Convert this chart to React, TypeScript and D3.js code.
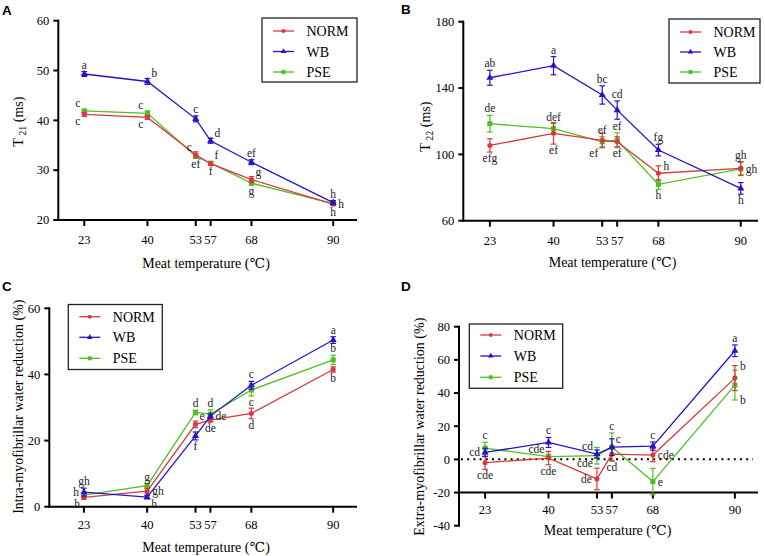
import React from "react";
import * as d3 from "d3";

// ---------- data ----------
const TEMPS = [23, 40, 53, 57, 68, 90];
const SERIES = ["NORM", "WB", "PSE"];

// Panel A: T21 (ms)
const A_NORM = [41.2, 40.6, 33.1, 31.3, 28.1, 23.2];
const A_NORM_ERR = [0.4, 0.4, 0.6, 0.3, 0.6, 0.3];
const A_WB = [49.3, 47.8, 40.3, 35.9, 31.6, 23.5];
const A_WB_ERR = [0.5, 0.6, 0.6, 0.5, 0.5, 0.4];
const A_PSE = [41.9, 41.4, 32.8, 31.4, 27.4, 23.3];
const A_PSE_ERR = [0.3, 0.5, 0.4, 0.3, 0.4, 0.3];
const A_NORM_LET = ["c", "c", "c", "f", "g", "h"];
const A_WB_LET = ["a", "b", "c", "d", "ef", "h"];
const A_PSE_LET = ["c", "c", "ef", "f", "g", "h"];

// Panel B: T22 (ms)
const B_NORM = [105.4, 112.7, 108.5, 107.6, 88.6, 91.6];
const B_NORM_ERR = [4, 6.5, 4.5, 3, 4.5, 4];
const B_WB = [146.2, 153.5, 135.8, 126.7, 102.6, 79.5];
const B_WB_ERR = [4.5, 5.5, 5.5, 5.5, 3.5, 3.5];
const B_PSE = [118.5, 115.5, 107.6, 108.5, 81.9, 91.2];
const B_PSE_ERR = [5, 3, 3, 4.5, 3, 4];
const B_NORM_LET = ["efg", "ef", "ef", "ef", "h", "gh"];
const B_WB_LET = ["ab", "a", "bc", "cd", "fg", "h"];
const B_PSE_LET = ["de", "def", "ef", "ef", "h", "gh"];

// Panel C: intra-myofibrillar water reduction (%)
const C_NORM = [2.8, 4.7, 24.9, 26.2, 28.2, 41.5];
const C_NORM_ERR = [0.6, 0.8, 1, 0.6, 1.6, 0.8];
const C_WB = [4.4, 2.9, 21.4, 27.4, 36.7, 50.4];
const C_WB_ERR = [1.2, 0.5, 1.2, 0.6, 1.2, 1];
const C_PSE = [3.5, 6.4, 28.5, 28.0, 35.3, 44.4];
const C_PSE_ERR = [0.6, 0.6, 0.7, 1.3, 1.8, 1.4];
const C_NORM_LET = ["h", "gh", "e", "de", "d", "b"];
const C_WB_LET = ["gh", "h", "f", "de", "c", "a"];
const C_PSE_LET = ["h", "g", "d", "d", "c", "b"];

// Panel D: extra-myofibrillar water reduction (%)
const D_NORM = [-2.0, 0.8, -11.8, 3.2, 2.6, 49.0];
const D_NORM_ERR = [4, 4, 6.5, 4, 4, 7.5];
const D_WB = [4.2, 10.2, 3.2, 7.4, 8.0, 65.5];
const D_WB_ERR = [2.5, 3, 2.5, 5, 2.5, 3.5];
const D_PSE = [6.8, 1.6, 2.2, 7.4, -13.4, 44.8];
const D_PSE_ERR = [3.5, 1.5, 5, 8.5, 8, 9];
const D_NORM_LET = ["cde", "cde", "de", "cd", "cde", "b"];
const D_WB_LET = ["cd", "c", "cd", "c", "c", "a"];
const D_PSE_LET = ["c", "cde", "cde", "c", "e", "b"];

const A_TICKS = [20, 30, 40, 50, 60];
const B_TICKS = [60, 100, 140, 180];
const C_TICKS = [0, 20, 40, 60];
const D_TICKS = [-40, -20, 0, 20, 40, 60, 80];
const X_TITLE = "Meat temperature (\u2103)";

// ---------- style / layout ----------
const COLORS: Record<string, string> = { NORM: "#d8383e", WB: "#2414c6", PSE: "#50bf22" };
const SYMBOLS: Record<string, any> = { NORM: d3.symbolCircle, WB: d3.symbolTriangle, PSE: d3.symbolSquare };
const SYM_SIZE: Record<string, number> = { NORM: 20, WB: 22, PSE: 26 };
const SERIF = "Liberation Serif, Times New Roman, DejaVu Serif, serif";
const SANS = "Liberation Sans, Arial, sans-serif";

type Series = { name: string; vals: number[]; errs: number[]; lets: string[]; pos: string[] };

const PANELS = [
  {
    id: "A", labelX: 2, labelY: 15,
    x0: 58.3, x1: 357, xDom: [16, 96.4],
    yTop: 20.7, yBot: 220, yDom: [20, 60], yTicks: A_TICKS, xAxisAt: 20,
    tickLabelY: 243.5, titleX: 206, titleY: 267.5,
    yTitle: ["T", "21", " (ms)"], yTitleX: 23, yTitleY: 121.7,
    legend: { x: 262, y: 18, w: 95, h: 64, rows: [31, 51.5, 72] },
    series: [
      { name: "NORM", vals: A_NORM, errs: A_NORM_ERR, lets: A_NORM_LET, pos: ["lb", "lb", "la", "b", "ra", "b"] },
      { name: "WB", vals: A_WB, errs: A_WB_ERR, lets: A_WB_LET, pos: ["a", "ra", "a", "ra", "a", "a"] },
      { name: "PSE", vals: A_PSE, errs: A_PSE_ERR, lets: A_PSE_LET, pos: ["la", "la", "b", "ra", "b", "r"] },
    ] as Series[],
  },
  {
    id: "B", labelX: 401, labelY: 14,
    x0: 463.3, x1: 758, xDom: [15.9, 94.6],
    yTop: 21.7, yBot: 220.7, yDom: [60, 180], yTicks: B_TICKS, xAxisAt: 60,
    tickLabelY: 245, titleX: 612.5, titleY: 266.5,
    yTitle: ["T", "22", " (ms)"], yTitleX: 429.5, yTitleY: 126.7,
    legend: { x: 669, y: 19, w: 91, h: 64, rows: [32, 52, 72] },
    series: [
      { name: "NORM", vals: B_NORM, errs: B_NORM_ERR, lets: B_NORM_LET, pos: ["b", "b", "lbe", "b", "rt", "a"] },
      { name: "WB", vals: B_WB, errs: B_WB_ERR, lets: B_WB_LET, pos: ["a", "a", "a", "a", "a", "b"] },
      { name: "PSE", vals: B_PSE, errs: B_PSE_ERR, lets: B_PSE_LET, pos: ["a", "a", "a", "a", "b", "r"] },
    ] as Series[],
  },
  {
    id: "C", labelX: 2, labelY: 291,
    x0: 49.3, x1: 357, xDom: [13.7, 96.4],
    yTop: 308.3, yBot: 506.7, yDom: [0, 60], yTicks: C_TICKS, xAxisAt: 0,
    tickLabelY: 528.5, titleX: 206, titleY: 551.5,
    yTitle: ["Intra-myofibrillar water reduction (%)"], yTitleX: 23, yTitleY: 406.7,
    legend: { x: 68.3, y: 304.5, w: 94, h: 65, rows: [316.7, 337.3, 358.3] },
    series: [
      { name: "NORM", vals: C_NORM, errs: C_NORM_ERR, lets: C_NORM_LET, pos: ["lb", "r", "ra", "b", "b", "b"] },
      { name: "WB", vals: C_WB, errs: C_WB_ERR, lets: C_WB_LET, pos: ["a", "rb", "b", "r", "a", "a"] },
      { name: "PSE", vals: C_PSE, errs: C_PSE_ERR, lets: C_PSE_LET, pos: ["lm", "a", "a", "a", "b", "a"] },
    ] as Series[],
  },
  {
    id: "D", labelX: 401, labelY: 291,
    x0: 459, x1: 758, xDom: [16, 96.2],
    yTop: 326.7, yBot: 525.7, yDom: [-40, 80], yTicks: D_TICKS, xAxisAt: -20,
    tickLabelY: 513.5, titleX: 607.5, titleY: 535,
    yTitle: ["Extra-myofibrillar water reduction (%)"], yTitleX: 424, yTitleY: 426.7,
    legend: { x: 469.3, y: 324, w: 93.4, h: 64.3, rows: [335, 356, 377.3] },
    zeroLine: true,
    series: [
      { name: "NORM", vals: D_NORM, errs: D_NORM_ERR, lets: D_NORM_LET, pos: ["b", "b", "l", "b", "r", "rt"] },
      { name: "WB", vals: D_WB, errs: D_WB_ERR, lets: D_WB_LET, pos: ["l", "a", "la", "ra", "a", "a"] },
      { name: "PSE", vals: D_PSE, errs: D_PSE_ERR, lets: D_PSE_LET, pos: ["a", "la", "lb", "a", "r", "rbt"] },
    ] as Series[],
  },
];

function letterPlace(code: string, x: number, y: number, yT: number, yB: number) {
  switch (code) {
    case "a": return { x, y: yT - 3, a: "middle" };
    case "b": return { x, y: yB + 10, a: "middle" };
    case "r": return { x: x + 5, y: y + 4, a: "start" };
    case "l": return { x: x - 5, y: y + 4, a: "end" };
    case "lm": return { x: x - 5, y: y + 1, a: "end" };
    case "ra": return { x: x + 4, y: y - 4, a: "start" };
    case "la": return { x: x - 4, y: y - 4, a: "end" };
    case "lb": return { x: x - 4, y: y + 11, a: "end" };
    case "lbe": return { x: x - 4, y: yB + 9, a: "end" };
    case "rb": return { x: x + 4, y: yB + 9, a: "start" };
    case "rt": return { x: x + 5, y: yT + 4, a: "start" };
    case "rbt": return { x: x + 5, y: yB + 4, a: "start" };
    default: return { x, y, a: "middle" };
  }
}

function Panel({ p }: { p: any }) {
  const x = d3.scaleLinear().domain(p.xDom).range([p.x0, p.x1]);
  const y = d3.scaleLinear().domain(p.yDom).range([p.yBot, p.yTop]);
  const axY = y(p.xAxisAt);
  const drawOrder = ["PSE", "NORM", "WB"];
  const ser: Series[] = drawOrder.map((n) => p.series.find((s: Series) => s.name === n));
  const line = d3.line<number>().x((_, i) => x(TEMPS[i])).y((v) => y(v));
  const L = p.legend;
  return (
    <g>
      <text x={p.labelX} y={p.labelY} fontFamily={SANS} fontWeight="bold" fontSize={13.5}>{p.id}</text>
      {/* y axis */}
      <line x1={p.x0} x2={p.x0} y1={p.yTop - 1} y2={p.yBot + 1} stroke="#000" strokeWidth={2} />
      {p.yTicks.map((t: number) => (
        <g key={t}>
          <line x1={p.x0 - 5} x2={p.x0} y1={y(t)} y2={y(t)} stroke="#000" strokeWidth={2} />
          <text x={p.x0 - 9} y={y(t) + 4.3} textAnchor="end" fontFamily={SERIF} fontSize={12.5}>{t}</text>
        </g>
      ))}
      {/* x axis */}
      <line x1={p.x0 - 1} x2={p.x1} y1={axY} y2={axY} stroke="#000" strokeWidth={2} />
      {TEMPS.map((t) => (
        <g key={t}>
          <line x1={x(t)} x2={x(t)} y1={axY} y2={axY + 6} stroke="#000" strokeWidth={2} />
          <text x={x(t)} y={p.tickLabelY} textAnchor="middle" fontFamily={SERIF} fontSize={12.5}>{t}</text>
        </g>
      ))}
      <text x={p.titleX} y={p.titleY} textAnchor="middle" fontFamily={SERIF} fontSize={14}>{X_TITLE}</text>
      <text transform={`translate(${p.yTitleX},${p.yTitleY}) rotate(-90)`} textAnchor="middle" fontFamily={SERIF} fontSize={14}>
        {p.yTitle.length === 3 ? (
          <>
            {p.yTitle[0]}
            <tspan fontSize={10} dy={3}>{" " + p.yTitle[1]}</tspan>
            <tspan dy={-3}>{p.yTitle[2]}</tspan>
          </>
        ) : (
          p.yTitle[0]
        )}
      </text>
      {p.zeroLine && (
        <line x1={p.x0 + 2} x2={p.x1 - 5} y1={y(0)} y2={y(0)} stroke="#000" strokeWidth={2} strokeDasharray="2 4.2" />
      )}
      {/* series */}
      {ser.map((s) => (
        <g key={s.name} stroke={COLORS[s.name]} fill={COLORS[s.name]}>
          <path d={line(s.vals) || ""} fill="none" strokeWidth={1.3} />
          {s.vals.map((v, i) => {
            const cx = x(TEMPS[i]);
            const y1 = y(v + s.errs[i]);
            const y2 = y(v - s.errs[i]);
            return (
              <g key={i}>
                <line x1={cx} x2={cx} y1={y1} y2={y2} strokeWidth={1.2} />
                <line x1={cx - 2.8} x2={cx + 2.8} y1={y1} y2={y1} strokeWidth={1.2} />
                <line x1={cx - 2.8} x2={cx + 2.8} y1={y2} y2={y2} strokeWidth={1.2} />
                <path d={d3.symbol().type(SYMBOLS[s.name]).size(SYM_SIZE[s.name])() || ""} transform={`translate(${cx},${y(v)})`} stroke="none" />
              </g>
            );
          })}
        </g>
      ))}
      {/* letters */}
      {p.series.map((s: Series) =>
        s.vals.map((v, i) => {
          const cx = x(TEMPS[i]);
          const pl = letterPlace(s.pos[i], cx, y(v), y(v + s.errs[i]), y(v - s.errs[i]));
          return (
            <text key={s.name + i} x={pl.x} y={pl.y} textAnchor={pl.a as any} fontFamily={SERIF} fontSize={11.5} fill="#222">
              {s.lets[i]}
            </text>
          );
        })
      )}
      {/* legend */}
      <rect x={L.x} y={L.y} width={L.w} height={L.h} fill="#fff" stroke="#222" strokeWidth={1.3} />
      {SERIES.map((n, i) => (
        <g key={n}>
          <line x1={L.x + 11} x2={L.x + 32} y1={L.rows[i]} y2={L.rows[i]} stroke={COLORS[n]} strokeWidth={1.3} />
          <path d={d3.symbol().type(SYMBOLS[n]).size(SYM_SIZE[n] * 0.6)() || ""} transform={`translate(${L.x + 21.5},${L.rows[i]})`} fill={COLORS[n]} />
          <text x={L.x + 44.5} y={L.rows[i] + 5} fontFamily={SERIF} fontSize={14}>{n}</text>
        </g>
      ))}
    </g>
  );
}

export default function App() {
  return (
    <svg width={765} height={556} style={{ position: "absolute", left: 0, top: 0, background: "#fff" }}>
      <rect width={765} height={556} fill="#fff" />
      {PANELS.map((p) => (
        <Panel key={p.id} p={p} />
      ))}
    </svg>
  );
}
